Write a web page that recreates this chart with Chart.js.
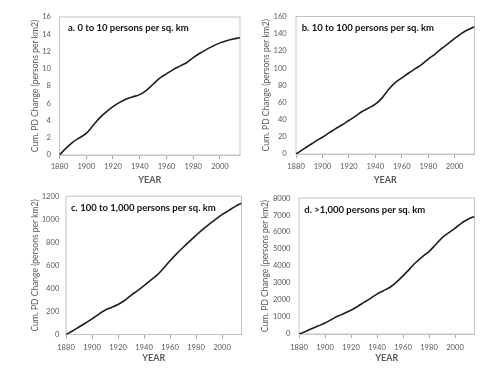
<!DOCTYPE html>
<html><head><meta charset="utf-8">
<script src="https://cdn.jsdelivr.net/npm/chart.js@4/dist/chart.umd.min.js"></script>
<style>
html,body{margin:0;padding:0;background:#fff;width:500px;height:375px;overflow:hidden}
canvas{position:absolute}
</style></head><body>
<canvas id="ca" width="250" height="190" style="left:0;top:0"></canvas>
<canvas id="cb" width="250" height="190" style="left:250px;top:0"></canvas>
<canvas id="cc" width="250" height="190" style="left:0;top:185px"></canvas>
<canvas id="cd" width="250" height="190" style="left:250px;top:185px"></canvas>
<script>
// ---- data ----
const years = [1880,1885,1890,1895,1900,1905,1910,1915,1920,1925,1930,1935,1940,1945,1950,1955,1960,1965,1970,1975,1980,1985,1990,1995,2000,2005,2010,2015];
const seriesA = [0,0.8,1.5,2.0,2.5,3.4,4.3,5.0,5.6,6.1,6.5,6.75,7.0,7.5,8.2,8.9,9.4,9.9,10.3,10.7,11.3,11.8,12.25,12.65,13.0,13.25,13.45,13.6];
const seriesB = [0,5,10,15,19.5,24.5,29.5,34,39,44,49.5,53.5,58,65,75,83,88.5,94,99,104,110.5,116,122.5,128.5,134.5,140,144.5,148];
const seriesC = [0,30,65,100,135,175,210,235,260,295,340,380,425,470,515,575,640,700,755,808,860,910,955,1000,1040,1075,1110,1140];
const seriesD = [0,150,320,480,650,850,1060,1220,1400,1620,1860,2100,2350,2550,2750,3050,3420,3820,4220,4560,4850,5250,5660,5950,6220,6530,6750,6920];
const xTicks = [1880,1900,1920,1940,1960,1980,2000];
const yTicksA = [0,2,4,6,8,10,12,14,16];
const yTicksB = [0,20,40,60,80,100,120,140,160];
const yTicksC = [0,200,400,600,800,1000,1200];
const yTicksD = [0,1000,2000,3000,4000,5000,6000,7000,8000];
const panelTitles = ['a. 0 to 10 persons per sq. km','b. 10 to 100 persons per sq. km','c. 100 to 1,000 persons per sq. km','d. >1,000 persons per sq. km'];
const xTitle = 'YEAR';
const yTitle = 'Cum. PD Change (persons per km2)';
const xMin = 1880, xMax = 2015;

// ---- layout (canvas-relative) ----
const FONT = 'Lato';
const tickSize = 7.6, yTitleSize = 8.5, xTitleSize = 9, panelSize = 9.5;
const layouts = [
  {id:'ca', series:seriesA, yt:yTicksA, l:59.5, t:17, r:240, b:155, ytc:35.5, ypad:8.5, xlab:166.3, year:180, dx:8.5, dy:11.3},
  {id:'cb', series:seriesB, yt:yTicksB, l:46, t:16.5, r:224.5, b:154, ytc:16.5, ypad:9.3, xlab:166.3, year:180, dx:5.7, dy:11.8},
  {id:'cc', series:seriesC, yt:yTicksC, l:66, t:11, r:241.5, b:149.5, ytc:35, ypad:6.7, xlab:162.3, year:173.3, dx:5, dy:11.7},
  {id:'cd', series:seriesD, yt:yTicksD, l:49, t:11, r:224.5, b:149, ytc:15.5, ypad:8.5, xlab:162.3, year:173.3, dx:5.3, dy:12.3}
];
const H = 190, W = 250;

const boxPlugin = {
  id:'box',
  beforeDatasetsDraw(chart){
    const {ctx, chartArea:a} = chart;
    ctx.save(); ctx.strokeStyle='#c4c4c4'; ctx.lineWidth=1;
    ctx.strokeRect(a.left, a.top, a.right-a.left, a.bottom-a.top);
    ctx.restore();
  },
  afterDraw(chart, args, opts){
    const {ctx, chartArea:a} = chart;
    ctx.save();
    ctx.font = 'bold '+panelSize+'px '+FONT;
    ctx.fillStyle = '#111';
    ctx.textBaseline = 'middle';
    ctx.fillText(opts.text, a.left+opts.dx, a.top+opts.dy);
    ctx.restore();
  }
};

layouts.forEach((L, i) => {
  const pts = years.map((yr, k) => ({x: yr, y: L.series[k]}));
  const tickLh = tickSize*1.2, xtLh = xTitleSize*1.2, ytLh = yTitleSize*1.2;
  new Chart(document.getElementById(L.id), {
    type:'line',
    data:{datasets:[{data:pts, borderColor:'#1e1e1e', borderWidth:1.6, pointRadius:0, tension:0.4, cubicInterpolationMode:'monotone', fill:false}]},
    options:{
      responsive:false, animation:false,
      layout:{padding:{left:0, top:L.t, right:W-L.r, bottom:0}},
      plugins:{legend:{display:false}, tooltip:{enabled:false}, box:{text:panelTitles[i], dx:L.dx, dy:L.dy}},
      scales:{
        x:{type:'linear', min:xMin, max:xMax,
          afterBuildTicks: s => { s.ticks = xTicks.map(v => ({value:v})); },
          afterFit: s => { s.height = H - L.b; },
          grid:{drawOnChartArea:false, drawTicks:true, tickLength:4, color:'#a6a6a6'},
          border:{display:true, color:'#c4c4c4'},
          ticks:{font:{family:FONT, size:tickSize}, color:'#595959', padding:L.xlab - L.b - 4 - tickLh/2, maxRotation:0, autoSkip:false, callback: v => String(v)},
          title:{display:true, text:xTitle, color:'#595959', font:{family:FONT, size:xTitleSize, weight:'bold'}, padding:{top:0, bottom:H - L.year - xtLh/2}}
        },
        y:{type:'linear', min:L.yt[0], max:L.yt[L.yt.length-1],
          afterBuildTicks: s => { s.ticks = L.yt.map(v => ({value:v})); },
          afterFit: s => { s.width = L.l; },
          grid:{display:false, drawTicks:false},
          border:{display:false},
          ticks:{font:{family:FONT, size:tickSize}, color:'#595959', padding:L.ypad, autoSkip:false, callback: v => String(v)},
          title:{display:true, text:yTitle, color:'#595959', font:{family:FONT, size:yTitleSize}, padding:{top:L.ytc - ytLh/2, bottom:0}}
        }
      }
    },
    plugins:[boxPlugin]
  });
});
</script>
</body></html>
